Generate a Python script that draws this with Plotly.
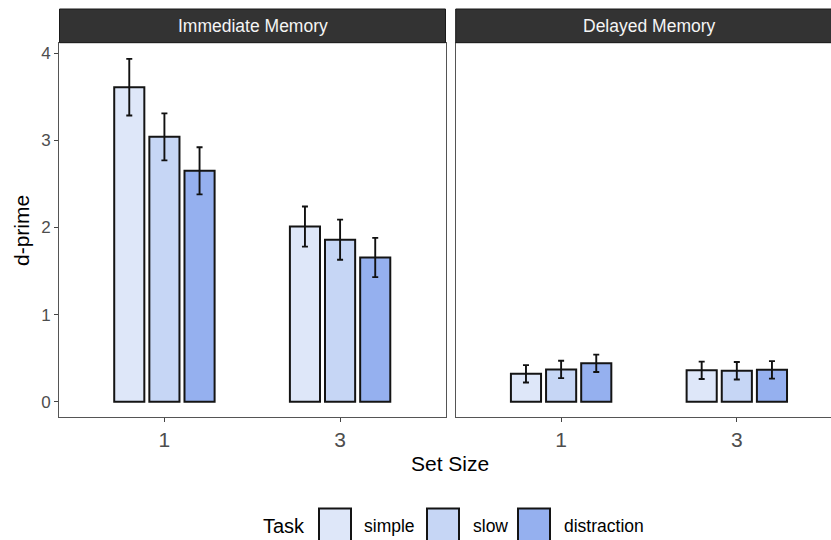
import plotly.graph_objects as go

# ---- data ----
set_sizes = ["1", "3"]
tasks = ["simple", "slow", "distraction"]
task_colors = ["#DEE7F9", "#C6D6F5", "#95B0EF"]

imm_simple = [3.61, 2.01]
imm_slow = [3.04, 1.86]
imm_distraction = [2.65, 1.655]
imm_simple_se = [0.325, 0.23]
imm_slow_se = [0.27, 0.23]
imm_distraction_se = [0.27, 0.225]

del_simple = [0.32, 0.36]
del_slow = [0.37, 0.355]
del_distraction = [0.44, 0.365]
del_simple_se = [0.10, 0.10]
del_slow_se = [0.10, 0.10]
del_distraction_se = [0.10, 0.10]

panel_titles = ["Immediate Memory", "Delayed Memory"]
y_ticks = [0, 1, 2, 3, 4]

imm_means = [imm_simple, imm_slow, imm_distraction]
imm_ses = [imm_simple_se, imm_slow_se, imm_distraction_se]
del_means = [del_simple, del_slow, del_distraction]
del_ses = [del_simple_se, del_slow_se, del_distraction_se]

# ---- layout geometry (pixels) ----
W, H = 831, 540
ML, MR, MT, MB = 59, 0, 9, 123
PW = W - ML - MR
PH = H - MT - MB


def px_x(px):
    return (px - ML) / PW


def px_y(py):
    return (H - MB - py) / PH


FONT = "Liberation Sans, Arial, sans-serif"

fig = go.Figure()

for panel, (means, ses) in enumerate([(imm_means, imm_ses), (del_means, del_ses)]):
    xa = "x" if panel == 0 else "x2"
    ya = "y" if panel == 0 else "y2"
    for t, name in enumerate(tasks):
        fig.add_trace(go.Bar(
            x=set_sizes, y=means[t], name=name,
            xaxis=xa, yaxis=ya, offsetgroup=str(t),
            marker=dict(color=task_colors[t], line=dict(color="#141414", width=2)),
            error_y=dict(type="data", array=ses[t], visible=True,
                         color="#111111", thickness=1.9, width=3),
            showlegend=False,
        ))

y_dom_top = px_y(42.7)
axis_line = "#555555"
common_x = dict(type="category", categoryorder="array", categoryarray=set_sizes,
                showgrid=False, zeroline=False, showline=True, linecolor=axis_line,
                linewidth=1, ticks="outside", ticklen=4, tickcolor="#444444",
                tickfont=dict(family=FONT, size=21, color="#4D4D4D"), fixedrange=True)
fig.update_layout(
    xaxis=dict(domain=[0, px_x(445.5)], range=[-0.6, 1.6], mirror=True, anchor="y", **common_x),
    xaxis2=dict(domain=[px_x(455.7), 1], range=[-0.6, -0.6 + (W - 455.7) / 175.7],
                mirror=True, anchor="y2", **common_x),
    yaxis=dict(domain=[0, y_dom_top], range=[-0.176, 4.121], tickvals=y_ticks,
               showgrid=False, zeroline=False, showline=True, mirror=True,
               linecolor=axis_line, linewidth=1, ticks="outside", ticklen=4,
               tickcolor="#444444", tickfont=dict(family=FONT, size=17, color="#4D4D4D"),
               anchor="x", fixedrange=True),
    yaxis2=dict(domain=[0, y_dom_top], range=[-0.176, 4.121], matches="y",
                showgrid=False, zeroline=False, showline=True, mirror=False,
                linecolor=axis_line, linewidth=1, showticklabels=False, ticks="",
                anchor="x2", fixedrange=True),
    barmode="group", bargap=0.4, bargroupgap=0.143,
    width=W, height=H,
    margin=dict(l=ML, r=MR, t=MT, b=MB, pad=0),
    paper_bgcolor="white", plot_bgcolor="white",
    showlegend=False,
)

shapes = []
annotations = []

# facet strips
strip_x = [(59.5, 445.5), (455.7, 843)]
for (x0, x1), title in zip(strip_x, panel_titles):
    shapes.append(dict(type="rect", xref="paper", yref="paper",
                       x0=px_x(x0), x1=px_x(x1), y0=y_dom_top, y1=px_y(9),
                       fillcolor="#333333", line=dict(color="#1A1A1A", width=1), layer="above"))
    annotations.append(dict(text=title, xref="paper", yref="paper",
                            x=px_x((x0 + x1) / 2), y=px_y(25.9), xanchor="center", yanchor="middle",
                            showarrow=False, font=dict(family=FONT, size=17.5, color="#F5F5F5")))

# axis titles
annotations.append(dict(text="d-prime", xref="paper", yref="paper", x=px_x(21), y=px_y(231),
                        textangle=-90, xanchor="center", yanchor="middle", showarrow=False,
                        font=dict(family=FONT, size=21, color="black")))
annotations.append(dict(text="Set Size", xref="paper", yref="paper", x=px_x(450), y=px_y(463),
                        xanchor="center", yanchor="middle", showarrow=False,
                        font=dict(family=FONT, size=21, color="black")))

# legend
legend_box_px = [319, 427, 518]
legend_text_px = [362, 471, 562]
annotations.append(dict(text="Task", xref="paper", yref="paper", x=px_x(261), y=px_y(525.5),
                        xanchor="left", yanchor="middle", showarrow=False,
                        font=dict(family=FONT, size=20, color="black")))
for bx, tx, name, col in zip(legend_box_px, legend_text_px, tasks, task_colors):
    shapes.append(dict(type="rect", xref="paper", yref="paper",
                       x0=px_x(bx), x1=px_x(bx + 32), y0=px_y(508.5), y1=px_y(541),
                       fillcolor=col, line=dict(color="#141414", width=2)))
    annotations.append(dict(text=name, xref="paper", yref="paper", x=px_x(tx), y=px_y(525.5),
                            xanchor="left", yanchor="middle", showarrow=False,
                            font=dict(family=FONT, size=17.5, color="black")))

fig.update_layout(shapes=shapes, annotations=annotations)
fig.write_html("out.html", config={"displayModeBar": False},
               post_script="document.body.style.margin='0';document.body.style.padding='0';")
